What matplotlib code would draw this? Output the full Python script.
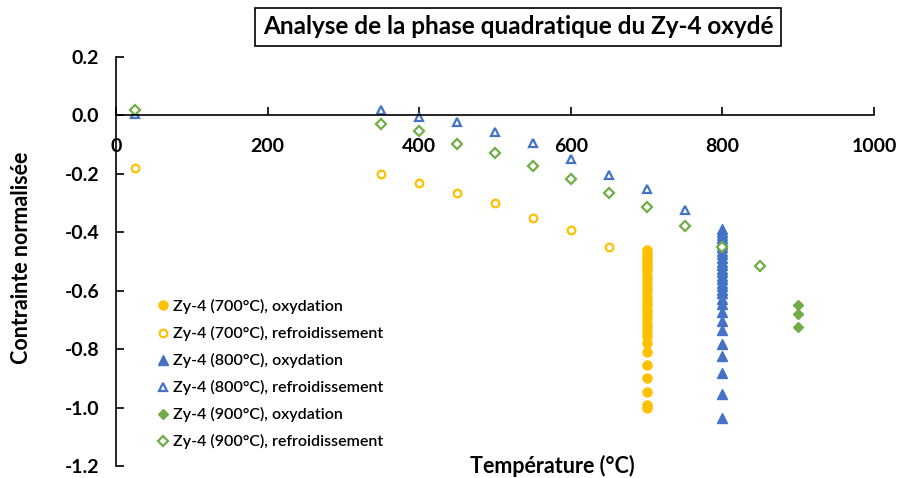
import matplotlib
matplotlib.use('Agg')
import matplotlib.pyplot as plt

plt.rcParams['font.family'] = ['Lato', 'DejaVu Sans']

# cooling series (refroidissement)
t_cool_700 = [25, 350, 400, 450, 500, 550, 600, 650]
s_cool_700 = [-0.18, -0.202, -0.233, -0.264, -0.30, -0.35, -0.392, -0.452]

t_cool_800 = [25, 350, 400, 450, 500, 550, 600, 650, 700, 750]
s_cool_800 = [0.005, 0.02, -0.005, -0.024, -0.057, -0.094, -0.148, -0.205, -0.253, -0.325]

t_cool_900 = [25, 350, 400, 450, 500, 550, 600, 650, 700, 750, 800, 850]
s_cool_900 = [0.02, -0.028, -0.055, -0.097, -0.128, -0.174, -0.216, -0.267, -0.312, -0.379, -0.451, -0.517]

# oxidation series (isothermal)
s_ox_700 = [-0.46, -0.47, -0.48, -0.49, -0.50, -0.51, -0.52, -0.53, -0.545, -0.56,
            -0.575, -0.59, -0.605, -0.62, -0.635, -0.65, -0.665, -0.68, -0.695,
            -0.71, -0.725, -0.74, -0.755, -0.78, -0.81, -0.854, -0.90, -0.945,
            -0.99, -1.0]
t_ox_700 = [700] * len(s_ox_700)

s_ox_800 = [-0.39, -0.40, -0.41, -0.42, -0.43, -0.44, -0.452, -0.464, -0.476,
            -0.488, -0.50, -0.512, -0.524, -0.536, -0.548, -0.56, -0.572, -0.584,
            -0.596, -0.608, -0.627, -0.647, -0.673, -0.705, -0.736, -0.781,
            -0.824, -0.883, -0.953, -1.037]
t_ox_800 = [800] * len(s_ox_800)

t_ox_900 = [900, 900, 900]
s_ox_900 = [-0.648, -0.679, -0.725]

orange = '#FFC000'
blue = '#4472C4'
green = '#70AD47'

fig = plt.figure(figsize=(8.99, 4.78), dpi=100)
ax = fig.add_axes([116/899, 1 - 466/478, (874-116)/899, (466-57)/478])

ax.plot(t_ox_700, s_ox_700, 'o', color=orange, ms=6.5, mec=orange,
        label='Zy-4 (700°C), oxydation')
ax.plot(t_cool_700, s_cool_700, 'o', color=orange, mfc='white', ms=5.5, mew=1.6,
        label='Zy-4 (700°C), refroidissement')
ax.plot(t_ox_800, s_ox_800, '^', color=blue, ms=6.5,
        label='Zy-4 (800°C), oxydation')
ax.plot(t_cool_800, s_cool_800, '^', color=blue, mfc='white', ms=5.5, mew=1.6,
        label='Zy-4 (800°C), refroidissement')
ax.plot(t_ox_900, s_ox_900, 'D', color=green, ms=5.5,
        label='Zy-4 (900°C), oxydation')
ax.plot(t_cool_900, s_cool_900, 'D', color=green, mfc='white', ms=4.8, mew=1.6,
        label='Zy-4 (900°C), refroidissement')

ax.set_xlim(0, 1000)
ax.set_ylim(-1.2, 0.2)
ax.set_xticks(range(0, 1001, 200))
ax.set_yticks([-1.2, -1.0, -0.8, -0.6, -0.4, -0.2, 0.0, 0.2])
ax.set_yticklabels(['%.1f' % v for v in ax.get_yticks()])

ax.spines['top'].set_visible(False)
ax.spines['right'].set_visible(False)
ax.spines['bottom'].set_position(('data', 0))
ax.spines['left'].set_position(('data', 0))
for s in ('bottom', 'left'):
    ax.spines[s].set_linewidth(1.2)
    ax.spines[s].set_color('black')

ax.tick_params(axis='x', direction='in', length=6, width=1.2, pad=16,
               labelsize=14)
ax.tick_params(axis='y', direction='in', length=6, width=1.2, pad=12,
               labelsize=14)
for lab in ax.get_xticklabels() + ax.get_yticklabels():
    lab.set_fontweight('bold')

fig.text(22/899, 1 - 258/478, 'Contrainte normalisée', rotation=90,
         ha='center', va='center', fontsize=15.5, fontweight='bold')
fig.text(552/899, 1 - 466/478, 'Température (°C)', ha='center', va='center',
         fontsize=15.5, fontweight='bold')

fig.text(518/899, 1 - 27/478, 'Analyse de la phase quadratique du Zy-4 oxydé',
         ha='center', va='center', fontsize=17.5, fontweight='bold',
         bbox=dict(boxstyle='square,pad=0.3', fc='white', ec='black', lw=1.2))

leg = ax.legend(loc='upper left', bbox_to_anchor=(154/899, 1 - 299/478),
                bbox_transform=fig.transFigure, frameon=False, fontsize=11.5,
                handletextpad=0.1, handlelength=1.1, labelspacing=0.75,
                borderpad=0, borderaxespad=0)
for t in leg.get_texts():
    t.set_fontweight('semibold')

fig.savefig('out.png', dpi=100)
